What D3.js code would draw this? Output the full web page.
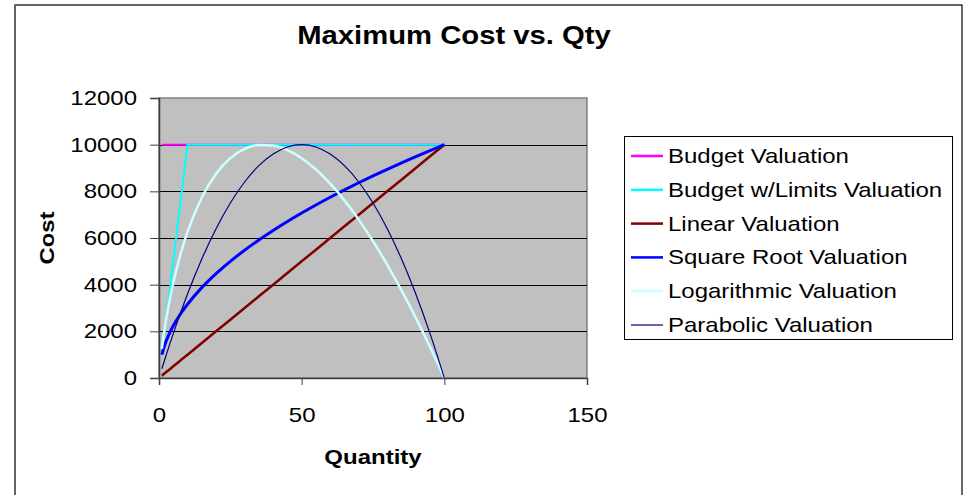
<!DOCTYPE html>
<html><head><meta charset="utf-8">
<script src="https://cdn.jsdelivr.net/npm/d3@7"></script>
<style>body{margin:0;background:#fff}svg{display:block}text{font-family:"Liberation Sans",Arial,sans-serif}</style>
</head><body><svg id="c" width="968" height="495"></svg>
<script>
const qty = [1,2,3,4,5,6,7,8,9,10,15,20,25,30,35,40,45,50,55,60,65,70,75,80,85,90,95,100];
const budget = [10000,10000,10000,10000,10000,10000,10000,10000,10000,10000,10000,10000,10000,10000,10000,10000,10000,10000,10000,10000,10000,10000,10000,10000,10000,10000,10000,10000];
const budgetLimits = [1000,2000,3000,4000,5000,6000,7000,8000,9000,10000,10000,10000,10000,10000,10000,10000,10000,10000,10000,10000,10000,10000,10000,10000,10000,10000,10000,10000];
const linear = [100,200,300,400,500,600,700,800,900,1000,1500,2000,2500,3000,3500,4000,4500,5000,5500,6000,6500,7000,7500,8000,8500,9000,9500,10000];
const sqrtVal = [1000,1414,1732,2000,2236,2449,2646,2828,3000,3162,3873,4472,5000,5477,5916,6325,6708,7071,7416,7746,8062,8367,8660,8944,9220,9487,9747,10000];
const logVal = [1252,2127,2860,3500,4072,4589,5060,5493,5891,6259,7735,8750,9421,9818,9988,9963,9767,9421,8938,8332,7612,6787,5865,4853,3755,2578,1325,0];
const parabolic = [396,784,1164,1536,1900,2256,2604,2944,3276,3600,5100,6400,7500,8400,9100,9600,9900,10000,9900,9600,9100,8400,7500,6400,5100,3600,1900,0];
const seriesNames = ["Budget Valuation","Budget w/Limits Valuation","Linear Valuation","Square Root Valuation","Logarithmic Valuation","Parabolic Valuation"];
const xTicks = [0,50,100,150];
const yTicks = [0,2000,4000,6000,8000,10000,12000];

const colors = ["#FF00FF","#00FFFF","#800000","#0000FF","#CCFFFF","#000080"];
const widths = [2,2,2.5,3,2.5,1.2];
const smooth = [false,false,false,true,true,true];
const values = [budget,budgetLimits,linear,sqrtVal,logVal,parabolic];
const SX = 1.2;

const svg = d3.select("#c");
svg.append("rect").attr("x",15).attr("y",5).attr("width",947).attr("height",500)
  .attr("fill","#fff").attr("stroke","#000").attr("stroke-width",1.2);
svg.append("line").attr("x1",15).attr("x2",15).attr("y1",5).attr("y2",495).attr("stroke","#666").attr("stroke-width",1.5);

const L=159,R=587,T=98,B=378;
const x = d3.scaleLinear().domain([0,150]).range([L,R]);
const y = d3.scaleLinear().domain([0,12000]).range([B,T]);

svg.append("rect").attr("x",L).attr("y",T).attr("width",R-L).attr("height",B-T)
  .attr("fill","#C0C0C0").attr("stroke","#808080").attr("stroke-width",1.5);

svg.append("g").selectAll("line").data(yTicks.filter(d=>d>0&&d<12000)).join("line")
  .attr("x1",L).attr("x2",R).attr("y1",d=>Math.round(y(d))+0.5).attr("y2",d=>Math.round(y(d))+0.5)
  .attr("stroke","#000").attr("stroke-width",1);

const yAxis = d3.axisLeft(y).tickValues(yTicks).tickSize(9).tickPadding(12).tickFormat(d3.format("d"));
const gy = svg.append("g").attr("transform",`translate(${L},0)`).call(yAxis);
gy.select(".domain").attr("stroke","#404040").attr("stroke-width",1.5);
gy.selectAll(".tick line").attr("stroke","#404040");
gy.selectAll("text").attr("font-size",20).attr("fill","#000").attr("x",-22/SX)
  .attr("transform",`scale(${SX},1)`).style("font-family","'Liberation Sans',Arial,sans-serif");

const xAxis = d3.axisBottom(x).tickValues(xTicks).tickSize(7).tickPadding(23).tickFormat(d3.format("d"));
const gx = svg.append("g").attr("transform",`translate(0,${B})`).call(xAxis);
gx.select(".domain").attr("stroke","#404040").attr("stroke-width",1.5);
gx.selectAll(".tick line").attr("stroke","#404040");
gx.selectAll("text").attr("font-size",20).attr("fill","#000")
  .attr("transform",`scale(${SX},1)`).style("font-family","'Liberation Sans',Arial,sans-serif");

values.forEach((vals,i)=>{
  const line = d3.line().x((d,j)=>x(qty[j])).y(d=>y(d)).curve(smooth[i]?d3.curveMonotoneX:d3.curveLinear);
  svg.append("path").datum(vals).attr("d",line).attr("fill","none")
    .attr("stroke",colors[i]).attr("stroke-width",widths[i]).attr("stroke-linejoin","round");
});

svg.append("text").attr("transform",`translate(454,44) scale(1.17,1)`).attr("text-anchor","middle")
  .attr("font-size",25).attr("font-weight","bold").text("Maximum Cost vs. Qty");
svg.append("text").attr("transform",`translate(373,464) scale(${SX},1)`).attr("text-anchor","middle")
  .attr("font-size",20).attr("font-weight","bold").text("Quantity");
svg.append("text").attr("transform","translate(54,238) rotate(-90) scale(1.19,1)").attr("text-anchor","middle")
  .attr("font-size",20).attr("font-weight","bold").text("Cost");

const lg = svg.append("g");
lg.append("rect").attr("x",624.5).attr("y",136.5).attr("width",328).attr("height",203)
  .attr("fill","#fff").attr("stroke","#000").attr("stroke-width",1);
seriesNames.forEach((n,i)=>{
  const cy = 156 + i*33.8;
  lg.append("line").attr("x1",631).attr("x2",663).attr("y1",cy).attr("y2",cy)
    .attr("stroke",colors[i]).attr("stroke-width",i===5?1.2:2.5);
  lg.append("text").attr("transform",`translate(668,${cy+7}) scale(${SX},1)`).attr("font-size",20).text(n);
});
</script></body></html>
